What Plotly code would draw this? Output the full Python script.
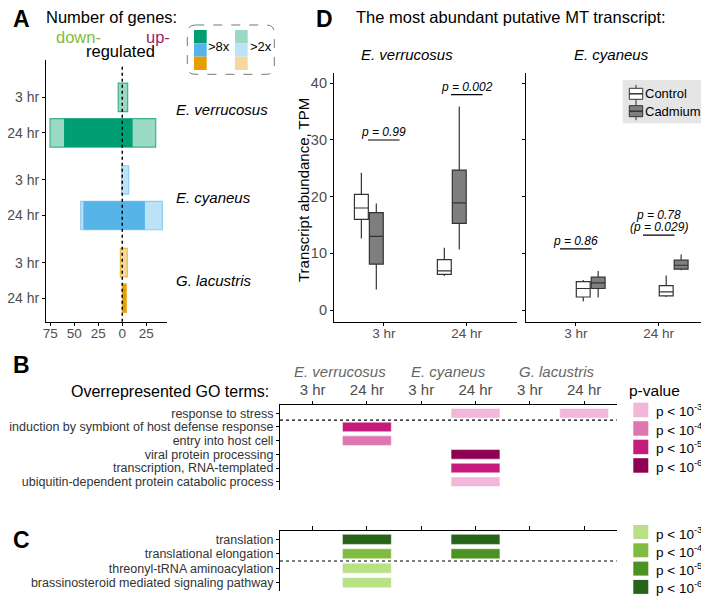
import plotly.graph_objects as go

# The page keeps an 8px body margin, so the figure is sized to fit the
# 709x597 window together with that margin; X()/Y() map window pixels.
OFF_PX = 8
W, H = 709 - OFF_PX, 597 - OFF_PX
def X(px): return (px - OFF_PX) / W
def Y(py): return 1 - (py - OFF_PX) / H

FONT = "Liberation Sans, Arial, sans-serif"
GRAY = "#4d4d4d"

# ---------------- data ----------------
species = ["E. verrucosus", "E. cyaneus", "G. lacustris"]
times = ["3 hr", "24 hr"]

# Panel A: number of genes per (species, time), rows species-major
down_2x = [4.2, 75.3, 0.6, 43.3, 2.0, 0.0]
down_8x = [0.0, 60.7, 0.0, 40.6, 0.0, 0.0]
up_8x = [0.0, 10.8, 0.0, 23.6, 0.0, 3.8]
up_2x = [5.6, 34.8, 6.7, 41.7, 5.2, 4.3]
a_ticks = [-75, -50, -25, 0, 25]

# Panel B: GO terms (up-regulated)
go_terms_B = ["response to stress",
              "induction by symbiont of host defense response",
              "entry into host cell",
              "viral protein processing",
              "transcription, RNA-templated",
              "ubiquitin-dependent protein catabolic process"]
b_term = ["response to stress", "response to stress",
          "induction by symbiont of host defense response",
          "entry into host cell", "viral protein processing",
          "transcription, RNA-templated",
          "ubiquitin-dependent protein catabolic process"]
b_species = ["E. cyaneus", "G. lacustris", "E. verrucosus", "E. verrucosus",
             "E. cyaneus", "E. cyaneus", "E. cyaneus"]
b_time = ["24 hr", "24 hr", "24 hr", "24 hr", "24 hr", "24 hr", "24 hr"]
b_level = [3, 3, 5, 4, 6, 5, 3]

# Panel C: GO terms (down-regulated)
go_terms_C = ["translation", "translational elongation",
              "threonyl-tRNA aminoacylation",
              "brassinosteroid mediated signaling pathway"]
c_term = ["translation", "translation", "translational elongation",
          "translational elongation", "threonyl-tRNA aminoacylation",
          "brassinosteroid mediated signaling pathway"]
c_species = ["E. verrucosus", "E. cyaneus", "E. verrucosus", "E. cyaneus",
             "E. verrucosus", "E. verrucosus"]
c_time = ["24 hr", "24 hr", "24 hr", "24 hr", "24 hr", "24 hr"]
c_level = [6, 6, 4, 5, 3, 3]
p_levels = [3, 4, 5, 6]

# Panel D: box statistics (TPM)
ev_ctrl = dict(lowerfence=[12.6, 6.0], q1=[16.0, 6.3], median=[18.0, 6.9], q3=[20.4, 8.9], upperfence=[24.2, 11.0])
ev_cd = dict(lowerfence=[3.6, 10.7], q1=[8.1, 15.3], median=[13.0, 18.9], q3=[17.2, 24.7], upperfence=[18.8, 35.9])
ec_ctrl = dict(lowerfence=[1.5, 2.3], q1=[2.3, 2.5], median=[3.8, 3.2], q3=[5.0, 4.3], upperfence=[5.3, 6.1])
ec_cd = dict(lowerfence=[2.2, 7.0], q1=[3.8, 7.2], median=[4.8, 7.9], q3=[5.8, 8.8], upperfence=[6.9, 9.8])
ev_pvals = ["p = 0.99", "p = 0.002"]
ev_p_y = [30.0, 38.0]
ec_pvals = ["p = 0.86", "p = 0.78\n(p = 0.029)"]
ec_p_y = [10.8, 13.2]
d_ticks = [0, 10, 20, 30, 40]

# ---------------- styles ----------------
species_dark = ["#009E73", "#56B4E9", "#E69F00"]
species_light = ["#9ad9c4", "#bde2f7", "#f5d89b"]
species_edge = ["#3fb08f", "#8ecbf0", "#ecb948"]
pink = {3: "#f1b6da", 4: "#de77ae", 5: "#c51b7d", 6: "#8e0152"}
green = {3: "#b8e186", 4: "#7fbc41", 5: "#4d9221", 6: "#276419"}

fig = go.Figure()

# ---------------- Panel A ----------------
FACET_STEP = 2.324
row_sp = [s for s in range(3) for t in range(2)]
row_t = [t for s in range(3) for t in range(2)]
ypos = [s * FACET_STEP + t for s, t in zip(row_sp, row_t)]

fig.add_trace(go.Bar(
    orientation="h", y=ypos,
    x=[d + u for d, u in zip(down_2x, up_2x)],
    base=[-d for d in down_2x], width=0.8,
    marker=dict(color=[species_light[s] for s in row_sp],
                line=dict(color=[species_edge[s] for s in row_sp], width=1.2)),
    xaxis="x", yaxis="y", hoverinfo="skip"))
fig.add_trace(go.Bar(
    orientation="h", y=ypos,
    x=[d + u for d, u in zip(down_8x, up_8x)],
    base=[-d for d in down_8x], width=0.8,
    marker=dict(color=[species_dark[s] for s in row_sp], line=dict(width=0)),
    xaxis="x", yaxis="y", hoverinfo="skip"))

# ---------------- Panels B & C ----------------
def col_of(sp, tm):
    return species.index(sp) * 2 + times.index(tm) + 1

b_cols = [col_of(s, t) for s, t in zip(b_species, b_time)]
fig.add_trace(go.Bar(
    orientation="h", y=b_term, x=[0.9] * len(b_cols),
    base=[c - 0.45 for c in b_cols], width=0.7,
    marker=dict(color=[pink[l] for l in b_level], line=dict(color="rgba(255,255,255,0.5)", width=1)),
    xaxis="x2", yaxis="y2", hoverinfo="skip"))

c_cols = [col_of(s, t) for s, t in zip(c_species, c_time)]
fig.add_trace(go.Bar(
    orientation="h", y=c_term, x=[0.9] * len(c_cols),
    base=[c - 0.45 for c in c_cols], width=0.7,
    marker=dict(color=[green[l] for l in c_level], line=dict(color="rgba(255,255,255,0.5)", width=1)),
    xaxis="x3", yaxis="y3", hoverinfo="skip"))

# ---------------- Panel D ----------------
def add_box(stats, fill, ax, ay, name):
    fig.add_trace(go.Box(
        x=times, name=name, fillcolor=fill,
        line=dict(color="#333333", width=1.2), whiskerwidth=0,
        boxpoints=False, xaxis=ax, yaxis=ay, hoverinfo="skip", **stats))

add_box(ev_ctrl, "white", "x4", "y4", "Control")
add_box(ev_cd, "#7f7f7f", "x4", "y4", "Cadmium")
add_box(ec_ctrl, "white", "x5", "y5", "Control")
add_box(ec_cd, "#7f7f7f", "x5", "y5", "Cadmium")

shapes = []
annotations = []

def ann(text, px, py, size, color="black", xanchor="left", yanchor="middle",
        bold=False, italic=False, **kw):
    if bold:
        text = "<b>" + text + "</b>"
    annotations.append(dict(
        text=text, x=X(px), y=Y(py), xref="paper", yref="paper",
        xanchor=xanchor, yanchor=yanchor, showarrow=False,
        font=dict(family=FONT, size=size, color=color,
                  style="italic" if italic else "normal"), **kw))

# p-value brackets
BR = 0.19
for pv, py_, ax, ay in [(ev_pvals, ev_p_y, "x4", "y4"), (ec_pvals, ec_p_y, "x5", "y5")]:
    for i, (txt, yv) in enumerate(zip(pv, py_)):
        shapes.append(dict(type="line", xref=ax, yref=ay, x0=i - BR, x1=i + BR,
                           y0=yv, y1=yv, line=dict(color="black", width=1.2)))
        lines = txt.split("\n")
        for k, ln in enumerate(reversed(lines)):
            annotations.append(dict(
                text=ln, x=i, y=yv, xref=ax, yref=ay, xanchor="center",
                yanchor="bottom", yshift=-1 + 12 * k, showarrow=False,
                font=dict(family=FONT, size=12, color="black", style="italic")))

# zero line in A
shapes.append(dict(type="line", xref="x", yref="y domain", x0=0, x1=0, y0=0, y1=0.975,
                   line=dict(color="black", width=1.5, dash="dot")))
# dotted separators in B and C
shapes.append(dict(type="line", xref="x2 domain", yref="y2", x0=0, x1=1, y0=0.5, y1=0.5,
                   line=dict(color="black", width=1.2, dash="dot")))
shapes.append(dict(type="line", xref="x3 domain", yref="y3", x0=0, x1=1, y0=1.5, y1=1.5,
                   line=dict(color="black", width=1.2, dash="dot")))

# Panel A legend (dashed rounded box)
def rrect(x0, y0, x1, y1, r):
    pts = lambda a, b: f"{X(a):.5f},{Y(b):.5f}"
    return (f"M {pts(x0 + r, y0)} L {pts(x1 - r, y0)} Q {pts(x1, y0)} {pts(x1, y0 + r)} "
            f"L {pts(x1, y1 - r)} Q {pts(x1, y1)} {pts(x1 - r, y1)} L {pts(x0 + r, y1)} "
            f"Q {pts(x0, y1)} {pts(x0, y1 - r)} L {pts(x0, y0 + r)} Q {pts(x0, y0)} {pts(x0 + r, y0)} Z")

shapes.append(dict(type="path", xref="paper", yref="paper", path=rrect(187.3, 25, 274.3, 74.3, 8),
                   line=dict(color="#777777", width=1, dash="dash")))
for i in range(3):
    y0 = 30 + i * 13.33
    shapes.append(dict(type="rect", xref="paper", yref="paper", x0=X(194), x1=X(206.7),
                       y0=Y(y0 + 13.33), y1=Y(y0), fillcolor=species_dark[i], line=dict(width=0)))
    shapes.append(dict(type="rect", xref="paper", yref="paper", x0=X(235), x1=X(247.7),
                       y0=Y(y0 + 13.33), y1=Y(y0), fillcolor=species_light[i], line=dict(width=0)))
ann("&gt;8x", 206, 47, 13)
ann("&gt;2x", 247.5, 47, 13)

# Panel D legend
shapes.append(dict(type="rect", xref="paper", yref="paper", x0=X(622.7), x1=X(703),
                   y0=Y(123.3), y1=Y(80), fillcolor="#e5e5e5", line=dict(width=0)))
for yc, fill, label in [(93.8, "white", "Control"), (111.2, "#7f7f7f", "Cadmium")]:
    shapes.append(dict(type="line", xref="paper", yref="paper", x0=X(636), x1=X(636),
                       y0=Y(yc - 9), y1=Y(yc + 9), line=dict(color="#333333", width=1)))
    shapes.append(dict(type="rect", xref="paper", yref="paper", x0=X(629.3), x1=X(642.7),
                       y0=Y(yc + 5.5), y1=Y(yc - 5.5), fillcolor=fill,
                       line=dict(color="#333333", width=1)))
    shapes.append(dict(type="line", xref="paper", yref="paper", x0=X(629.3), x1=X(642.7),
                       y0=Y(yc), y1=Y(yc), line=dict(color="#333333", width=1.5)))
    ann(label, 643, yc, 13)

# B & C legends
for i, lv in enumerate(p_levels):
    y0 = 402.7 + i * 18.5
    shapes.append(dict(type="rect", xref="paper", yref="paper", x0=X(633.3), x1=X(648.3),
                       y0=Y(y0 + 14.5), y1=Y(y0), fillcolor=pink[lv], line=dict(width=0)))
    ann(f"p &lt; 10<sup>-{lv}</sup>", 654, y0 + 7.5, 13.5)
    y0 = 525 + i * 18.3
    shapes.append(dict(type="rect", xref="paper", yref="paper", x0=X(633.3), x1=X(648.3),
                       y0=Y(y0 + 14), y1=Y(y0), fillcolor=green[lv], line=dict(width=0)))
    ann(f"p &lt; 10<sup>-{lv}</sup>", 654, y0 + 7.5, 13.5)
ann("p-value", 627, 390, 15.5)

# Panel titles / labels
ann("A", 11, 19, 23, bold=True)
ann("Number of genes:", 44, 17, 16.5)
ann("down-", 54, 37, 16.5, color="#7fbc41")
ann("up-", 144, 37, 16.5, color="#a3206e")
ann("regulated", 84, 51, 16.5)
for s in range(3):
    annotations.append(dict(text=species[s], x=X(174), y=s * FACET_STEP + 0.5 - (0.15 if s == 0 else 0),
                            xref="paper", yref="y", xanchor="left", yanchor="middle",
                            showarrow=False, font=dict(family=FONT, size=15, color="black", style="italic")))

ann("D", 314, 19, 23, bold=True)
ann("The most abundant putative MT transcript:", 354, 17, 16.5)
ann(species[0], 406.7, 55, 15, italic=True, xanchor="center")
ann(species[1], 611.7, 55, 15, italic=True, xanchor="center")
ann("Transcript abundance, TPM", 303, 190, 15, xanchor="center", textangle=-90)

ann("B", 11, 365, 23, bold=True)
ann("Overrepresented GO terms:", 271, 391, 16, xanchor="right")
for s in range(3):
    annotations.append(dict(text=species[s], x=2 * s + 1.5, y=Y(372), xref="x2", yref="paper",
                            xanchor="center", yanchor="middle", showarrow=False,
                            font=dict(family=FONT, size=15, color="#666666", style="italic")))
ann("C", 11, 540, 23, bold=True)

# ---------------- layout ----------------
axis_common = dict(showline=True, linecolor="black", linewidth=1.2, ticks="outside",
                   ticklen=3, tickcolor="black", showgrid=False, zeroline=False,
                   automargin=False,
                   tickfont=dict(family=FONT, size=13.5, color=GRAY))
col_ticktext = [t for s in species for t in times]
GO_FONT = dict(family=FONT, size=12.5, color="#333333")

fig.update_layout(
    width=W, height=H, margin=dict(l=0, r=0, t=0, b=0, pad=0), autosize=False,
    paper_bgcolor="white", plot_bgcolor="white", showlegend=False,
    barmode="overlay", boxmode="group", boxgap=0.28, boxgroupgap=0.07,
    font=dict(family=FONT),
    xaxis=dict(axis_common, domain=[X(46), X(166.7)], range=[-79.5, 46.3],
               tickvals=a_ticks, ticktext=[str(abs(v)) for v in a_ticks], anchor="y",
               ticklabelstandoff=-4),
    yaxis=dict(axis_common, domain=[Y(321.7), Y(60)], range=[6.31, -1.05],
               tickvals=ypos, ticktext=[times[t] for t in row_t], anchor="x",
               tickfont=dict(family=FONT, size=14, color=GRAY)),
    xaxis2=dict(axis_common, domain=[X(280), X(616.7)], range=[0.4, 6.6], side="top",
                tickvals=[1, 2, 3, 4, 5, 6], ticktext=col_ticktext, anchor="y2",
                tickfont=dict(family=FONT, size=15, color=GRAY)),
    yaxis2=dict(axis_common, domain=[Y(490), Y(405)], type="category",
                categoryarray=go_terms_B, categoryorder="array",
                tickmode="array", tickvals=go_terms_B, ticktext=go_terms_B,
                range=[len(go_terms_B) - 0.4, -0.6], anchor="x2", tickfont=GO_FONT),
    xaxis3=dict(axis_common, domain=[X(280), X(616.7)], range=[0.4, 6.6], side="top",
                tickvals=[1, 2, 3, 4, 5, 6], showticklabels=False, anchor="y3", ticklen=4),
    yaxis3=dict(axis_common, domain=[Y(591.3), Y(530.7)], type="category",
                categoryarray=go_terms_C, categoryorder="array",
                tickmode="array", tickvals=go_terms_C, ticktext=go_terms_C,
                range=[len(go_terms_C) - 0.4, -0.6], anchor="x3", tickfont=GO_FONT),
    xaxis4=dict(axis_common, domain=[X(334), X(516.5)], type="category",
                categoryarray=times, categoryorder="array", range=[-0.6, 1.6], anchor="y4",
                ticklabelstandoff=-4),
    yaxis4=dict(axis_common, domain=[Y(321.7), Y(73)], range=[-2.06, 41.82],
                tickvals=d_ticks, anchor="x4", tickfont=dict(family=FONT, size=14.5, color=GRAY)),
    xaxis5=dict(axis_common, domain=[X(526), X(708.5)], type="category",
                categoryarray=times, categoryorder="array", range=[-0.6, 1.6], anchor="y5",
                ticklabelstandoff=-4),
    yaxis5=dict(axis_common, domain=[Y(321.7), Y(73)], range=[-2.06, 41.82],
                tickvals=d_ticks, showticklabels=False, anchor="x5"),
    shapes=shapes, annotations=annotations,
)

fig.write_html("out.html", config={"displayModeBar": False})
